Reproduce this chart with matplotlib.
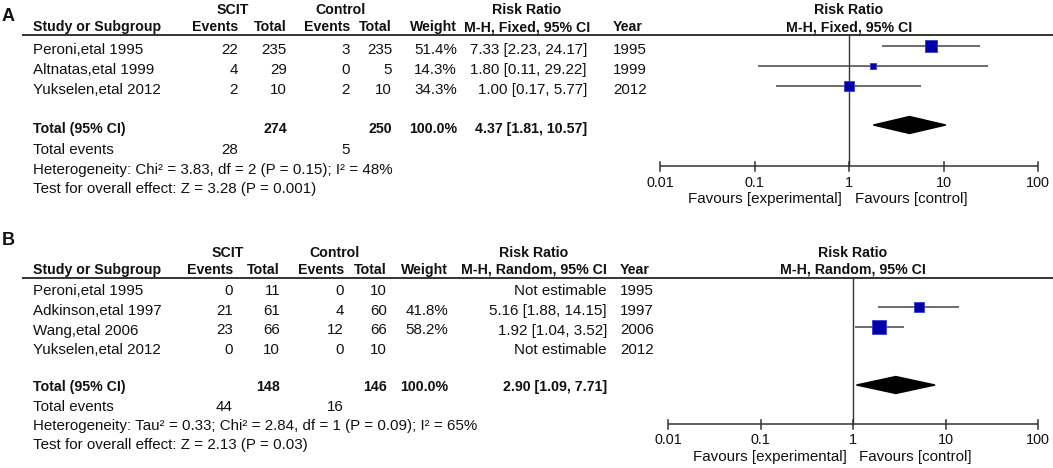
import matplotlib
matplotlib.use("Agg")
import matplotlib.pyplot as plt

W, H = 1053, 468
plt.rcParams['font.family'] = ['Liberation Sans', 'DejaVu Sans']

# ---------------- data: panel A ----------------
a_studies = ["Peroni,etal 1995", "Altnatas,etal 1999", "Yukselen,etal 2012"]
a_scit_events = [22, 4, 2]
a_scit_total = [235, 29, 10]
a_ctrl_events = [3, 0, 2]
a_ctrl_total = [235, 5, 10]
a_weight = [51.4, 14.3, 34.3]
a_rr = [7.33, 1.80, 1.00]
a_lo = [2.23, 0.11, 0.17]
a_hi = [24.17, 29.22, 5.77]
a_year = [1995, 1999, 2012]
a_tot_n = [274, 250]
a_tot_events = [28, 5]
a_tot_rr = [4.37, 1.81, 10.57]
a_method = "M-H, Fixed, 95% CI"
a_het = "Heterogeneity: Chi² = 3.83, df = 2 (P = 0.15); I² = 48%"
a_test = "Test for overall effect: Z = 3.28 (P = 0.001)"

# ---------------- data: panel B ----------------
b_studies = ["Peroni,etal 1995", "Adkinson,etal 1997", "Wang,etal 2006", "Yukselen,etal 2012"]
b_scit_events = [0, 21, 23, 0]
b_scit_total = [11, 61, 66, 10]
b_ctrl_events = [0, 4, 12, 0]
b_ctrl_total = [10, 60, 66, 10]
b_weight = [None, 41.8, 58.2, None]
b_rr = [None, 5.16, 1.92, None]
b_lo = [None, 1.88, 1.04, None]
b_hi = [None, 14.15, 3.52, None]
b_year = [1995, 1997, 2006, 2012]
b_tot_n = [148, 146]
b_tot_events = [44, 16]
b_tot_rr = [2.90, 1.09, 7.71]
b_method = "M-H, Random, 95% CI"
b_het = "Heterogeneity: Tau² = 0.33; Chi² = 2.84, df = 1 (P = 0.09); I² = 65%"
b_test = "Test for overall effect: Z = 2.13 (P = 0.03)"

tick_values = [0.01, 0.1, 1, 10, 100]
tick_labels = ["0.01", "0.1", "1", "10", "100"]
favour_left = "Favours [experimental]"
favour_right = "Favours [control]"

# ---------------- styles ----------------
REG, BOLD, TICK, FAV, LAB = 10.9, 10.2, 10.4, 10.9, 13
TXT = '#111111'
LINE = '#333333'
CI_COL = '#444444'
SQ_FACE = '#0000AA'
SQ_EDGE = '#3a3acc'

fig = plt.figure(figsize=(W / 100, H / 100), dpi=100)
bg = fig.add_axes([0, 0, 1, 1])
bg.set_xlim(0, W)
bg.set_ylim(H, 0)
bg.axis('off')


def t(x, y, s, ha='right', bold=False, size=None, ax=None):
    (ax or bg).text(x, y, s, ha=ha, va='baseline', color=TXT,
                    fontsize=size or (BOLD if bold else REG),
                    fontweight='bold' if bold else 'normal', clip_on=False)


def draw_panel(label, lay, studies, se, st, ce, ct, wt, rr, lo, hi, yr,
               tot_n, tot_ev, tot_rr, method, het, test):
    c = lay['cols']
    t(2, lay['label_y'], label, ha='left', bold=True, size=LAB)
    h1, h2 = lay['hdr1'], lay['hdr2']
    t(lay['scit_c'], h1, 'SCIT', ha='center', bold=True)
    t(lay['ctrl_c'], h1, 'Control', ha='center', bold=True)
    t(lay['rr_c'], h1, 'Risk Ratio', ha='center', bold=True)
    t(33, h2, 'Study or Subgroup', ha='left', bold=True)
    t(c[0], h2, 'Events', bold=True)
    t(c[1], h2, 'Total', bold=True)
    t(c[2], h2, 'Events', bold=True)
    t(c[3], h2, 'Total', bold=True)
    t(c[4], h2, 'Weight', bold=True)
    t(lay['rr_c'], h2, method, ha='center', bold=True)
    t(c[6], h2, 'Year', ha='left', bold=True)
    bg.plot([22, W], [lay['line'], lay['line']], color=LINE, lw=1.4,
            solid_capstyle='butt')

    off = 8
    for i, name in enumerate(studies):
        y = lay['rows'][i] + off
        t(33, y, name, ha='left')
        t(c[0], y, str(se[i]))
        t(c[1], y, str(st[i]))
        t(c[2], y, str(ce[i]))
        t(c[3], y, str(ct[i]))
        if wt[i] is not None:
            t(c[4], y, f"{wt[i]:.1f}%")
            t(c[5], y, f"{rr[i]:.2f} [{lo[i]:.2f}, {hi[i]:.2f}]")
        else:
            t(c[5], y, "Not estimable")
        t(c[6], y, str(yr[i]), ha='left')

    ty = lay['total'] + lay['total_off']
    t(33, ty, 'Total (95% CI)', ha='left', bold=True)
    t(c[1], ty, str(tot_n[0]), bold=True)
    t(c[3], ty, str(tot_n[1]), bold=True)
    t(c[4], ty, '100.0%', bold=True)
    t(c[5], ty, f"{tot_rr[0]:.2f} [{tot_rr[1]:.2f}, {tot_rr[2]:.2f}]", bold=True)
    t(33, lay['te'], 'Total events', ha='left')
    t(c[0], lay['te'], str(tot_ev[0]))
    t(c[2], lay['te'], str(tot_ev[1]))
    t(33, lay['het'], het, ha='left')
    t(33, lay['test'], test, ha='left')

    # forest plot axes: log x from 0.01 to 100, y in figure pixels
    x0, x1 = lay['plot_x']
    ytop, ybot = lay['span']
    ax = fig.add_axes([x0 / W, 1 - ybot / H, (x1 - x0) / W, (ybot - ytop) / H])
    ax.set_xscale('log')
    ax.set_xlim(tick_values[0], tick_values[-1])
    ax.set_ylim(ybot, ytop)
    ax.axis('off')
    ax.patch.set_alpha(0)

    xc = 1.0
    t(xc, lay['hdr1'], 'Risk Ratio', ha='center', bold=True, ax=ax)
    t(xc, lay['hdr2'], method, ha='center', bold=True, ax=ax)
    ay = lay['axis']
    ax.plot([xc, xc], [lay['line'], ay], color=LINE, lw=1.0, clip_on=False)
    ax.plot([tick_values[0], tick_values[-1]], [ay, ay], color=LINE, lw=1.1,
            clip_on=False, solid_capstyle='butt')
    for v, s in zip(tick_values, tick_labels):
        ax.plot([v, v], [ay - 4.5, ay + 4.5], color=LINE, lw=1.1, clip_on=False)
        t(v, lay['tick_y'], s, ha='center', size=TICK, ax=ax)
    t(0.85, lay['fav_y'], favour_left, ha='right', size=FAV, ax=ax)
    t(1.16, lay['fav_y'], favour_right, ha='left', size=FAV, ax=ax)

    for i in range(len(studies)):
        if rr[i] is None:
            continue
        y = lay['rows'][i]
        ax.plot([lo[i], hi[i]], [y, y], color=CI_COL, lw=1.1, clip_on=False,
                solid_capstyle='butt')
        side_px = 2.3 + 0.2 * wt[i]
        ax.scatter([rr[i]], [y], marker='s', s=(side_px * 0.72) ** 2,
                   facecolor=SQ_FACE, edgecolor=SQ_EDGE, linewidths=0.6,
                   zorder=3, clip_on=False)

    yd = lay['total']
    hh = 8.5
    ax.fill([tot_rr[1], tot_rr[0], tot_rr[2], tot_rr[0]],
            [yd, yd - hh, yd, yd + hh], color='black', zorder=3, clip_on=False)


lay_a = dict(label_y=21, hdr1=14, hdr2=31, line=34.5,
             scit_c=233, ctrl_c=340, rr_c=527,
             cols=[238, 287, 350, 392, 457, 587, 613],
             rows=[46, 66, 86], total=125, total_off=8,
             te=154, het=174, test=193,
             plot_x=(660, 1038), span=(0, 234),
             axis=166, tick_y=187, fav_y=203)

lay_b = dict(label_y=245, hdr1=257, hdr2=274, line=277.5,
             scit_c=228, ctrl_c=334, rr_c=534,
             cols=[233, 280, 344, 387, 448, 607, 620],
             rows=[287, 307, 326.5, 346], total=385, total_off=6,
             te=411, het=430, test=449,
             plot_x=(668, 1038), span=(234, 468),
             axis=424, tick_y=444, fav_y=461)

draw_panel('A', lay_a, a_studies, a_scit_events, a_scit_total, a_ctrl_events,
           a_ctrl_total, a_weight, a_rr, a_lo, a_hi, a_year, a_tot_n,
           a_tot_events, a_tot_rr, a_method, a_het, a_test)
draw_panel('B', lay_b, b_studies, b_scit_events, b_scit_total, b_ctrl_events,
           b_ctrl_total, b_weight, b_rr, b_lo, b_hi, b_year, b_tot_n,
           b_tot_events, b_tot_rr, b_method, b_het, b_test)

fig.savefig('out.png', dpi=100)
